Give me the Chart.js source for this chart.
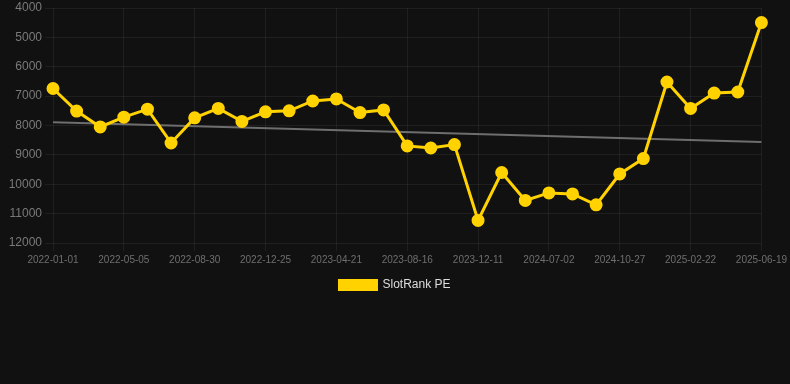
<!DOCTYPE html>
<html>
<head>
<meta charset="utf-8">
<script src="https://cdn.jsdelivr.net/npm/chart.js@4/dist/chart.umd.min.js"></script>
<style>
    html, body { margin: 0; padding: 0; background: #111111; }
    #wrap { width: 790px; height: 384px; position: relative; }
</style>
</head>
<body>
<div id="wrap"><canvas id="rankChart"></canvas></div>
<script>
// dates on the x axis (only every 3rd one is shown)
const dates = [
    "2022-01-01", "2022-02-11", "2022-03-24", "2022-05-05", "2022-06-15", "2022-07-20",
    "2022-08-30", "2022-10-05", "2022-11-18", "2022-12-25", "2023-02-01", "2023-03-12",
    "2023-04-21", "2023-05-30", "2023-07-08", "2023-08-16", "2023-09-25", "2023-11-01",
    "2023-12-11", "2024-02-20", "2024-04-28", "2024-07-02", "2024-08-12", "2024-09-18",
    "2024-10-27", "2024-12-05", "2025-01-14", "2025-02-22", "2025-04-02", "2025-05-11",
    "2025-06-19"
];
const rankValues = [
    6740, 7510, 8050, 7715, 7445, 8595, 7740, 7420, 7860, 7535, 7500, 7165,
    7095, 7560, 7470, 8695, 8765, 8650, 11230, 9600, 10550, 10295, 10330, 10700,
    9650, 9125, 6520, 7420, 6895, 6860, 4495
];
// trend line end points
const trendStart = 7890;
const trendEnd = 8560;
const yTicks = [4000, 5000, 6000, 7000, 8000, 9000, 10000, 11000, 12000];

const trendValues = dates.map((d, i) => i === 0 ? trendStart : (i === dates.length - 1 ? trendEnd : null));
const gold = "#FFD200";
const gridColor = "rgba(255,255,255,0.06)";
const font = "Arial, 'Liberation Sans'";

const ctx = document.getElementById("rankChart").getContext("2d");
new Chart(ctx, {
    type: "line",
    data: {
        labels: dates,
        datasets: [{
            label: "SlotRank PE",
            data: rankValues,
            borderColor: gold,
            backgroundColor: gold,
            pointBackgroundColor: gold,
            pointBorderColor: gold,
            pointRadius: 5,
            borderWidth: 3,
            tension: 0
        }, {
            label: "trend",
            data: trendValues,
            borderColor: "#6e6e6e",
            borderWidth: 2,
            pointRadius: 0,
            spanGaps: true
        }]
    },
    options: {
        responsive: true,
        maintainAspectRatio: false,
        animation: false,
        layout: { padding: { bottom: 83, top: 0, left: 0, right: 0 } },
        plugins: {
            legend: {
                position: "bottom",
                labels: {
                    color: "#dddddd",
                    boxWidth: 37,
                    boxHeight: 9,
                    font: { family: font, size: 12 },
                    filter: (item) => item.text === "SlotRank PE"
                }
            },
            tooltip: { enabled: false }
        },
        scales: {
            x: {
                grid: {
                    color: (c) => (c.index % 3 === 0 ? gridColor : "transparent")
                },
                border: { display: false },
                ticks: {
                    color: "#6f6f6f",
                    autoSkip: false,
                    maxRotation: 0,
                    font: { family: font, size: 10 },
                    callback: function (val, i) { return i % 3 === 0 ? this.getLabelForValue(val) : ""; }
                }
            },
            y: {
                reverse: true,
                min: 4000,
                max: 12000,
                afterBuildTicks: (axis) => { axis.ticks = yTicks.map(v => ({ value: v })); },
                afterFit: (axis) => { axis.width = 53; },
                grid: { color: gridColor },
                border: { display: false },
                ticks: {
                    color: "#7a7a7a",
                    font: { family: font, size: 12, lineHeight: 0.3 },
                    callback: (v) => String(v)
                }
            }
        }
    }
});
</script>
</body>
</html>
